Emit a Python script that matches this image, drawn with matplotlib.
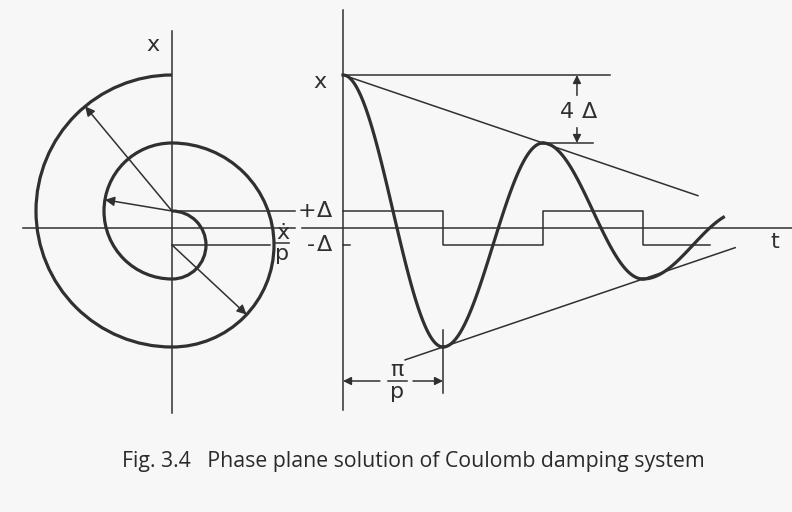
import numpy as np
import matplotlib
matplotlib.use('Agg')
import matplotlib.pyplot as plt
from matplotlib.patches import Arc

# friction displacement and initial amplitude (units of delta)
delta = 1.0
x0 = 9.0
# successive turning points of the motion, each half cycle loses 2*delta
turns = [9.0, -7.0, 5.0, -3.0, 1.0]
# friction level sign for each half cycle
friction_sign = [1, -1, 1, -1]
half_period = np.pi          # pi / p with p = 1
t_end = 11.95                # where the drawn response stops
step_end = 11.53
env_hi_span = [0.0, 11.15]
env_lo_span = [1.95, 12.32]

# radius arrows on the phase plane: (centre level, radius, angle in degrees)
radius_arrows = [(1.0, 8.0, 129.7), (1.0, 4.0, 170.5), (-1.0, 6.0, -43.0)]

ink = '#303030'
thin = 1.1
thick = 2.3
fs = 16

W, H = 792, 512
fig = plt.figure(figsize=(W / 100, H / 100), dpi=100)
fig.patch.set_facecolor('#f7f7f7')

# phase plane: 17 px per delta both ways, origin at (172, 228)
sc = 17.0
phase = fig.add_axes([0, 0, 1, 1])
phase.set_xlim(-172 / sc, (W - 172) / sc)
phase.set_ylim((228 - H) / sc, 228 / sc)

# time response: half period = 100 px, origin at (343, 228)
tsc = 100 / np.pi
resp = fig.add_axes([0, 0, 1, 1])
resp.set_xlim(-343 / tsc, (W - 343) / tsc)
resp.set_ylim((228 - H) / sc, 228 / sc)

for ax in (phase, resp):
    ax.set_axis_off()
    ax.patch.set_alpha(0)


def arrow(ax, tip, tail, size=13):
    ax.annotate('', xy=tip, xytext=tail,
                arrowprops=dict(arrowstyle='-|>', color=ink, lw=thin,
                                mutation_scale=size, shrinkA=0, shrinkB=0))


def fraction(ax, x, y, top, bottom, half_w, gap):
    ax.text(x, y + gap, top, fontsize=fs, color=ink, ha='center', va='center')
    ax.plot([x - half_w, x + half_w], [y, y], color=ink, lw=thin)
    ax.text(x, y - gap, bottom, fontsize=fs, color=ink, ha='center', va='center')


# --- phase plane ---
phase.plot([-8.76, 7.24], [0, 0], color=ink, lw=thin)
phase.plot([0, 0], [-10.9, 11.6], color=ink, lw=thin)
phase.plot([0, 7.24], [delta, delta], color=ink, lw=thin)
phase.plot([0, 5.76], [-delta, -delta], color=ink, lw=thin)

for k, sgn in enumerate(friction_sign):
    c = sgn * delta
    r = abs(turns[k] - c)
    th1, th2 = (90, 270) if sgn > 0 else (-90, 90)
    phase.add_patch(Arc((0, c), 2 * r, 2 * r, theta1=th1, theta2=th2,
                        color=ink, lw=thick))

for c, r, ang in radius_arrows:
    a = np.radians(ang)
    arrow(phase, (r * np.cos(a), c + r * np.sin(a)), (0, c), 14)

phase.text(-1.12, 10.76, 'x', fontsize=fs, color=ink, ha='center', va='center')
phase.text(7.95, delta, '+', fontsize=fs, color=ink, ha='center', va='center')
phase.text(8.95, delta, 'Δ', fontsize=fs, color=ink, ha='center', va='center')
phase.text(8.2, -delta, '-', fontsize=fs, color=ink, ha='center', va='center')
phase.text(8.95, -delta, 'Δ', fontsize=fs, color=ink, ha='center', va='center')
fraction(phase, 6.5, -0.9, 'ẋ', 'p', 0.4, 0.62)

# --- time response ---
resp.plot([-1.29, 14.2], [0, 0], color=ink, lw=thin)
resp.plot([0, 0], [-10.7, 12.8], color=ink, lw=thin)
resp.plot([0, 8.39], [x0, x0], color=ink, lw=thin)
resp.plot([0, 0.22], [-delta, -delta], color=ink, lw=thin)

step_t = [k * half_period for k in range(len(friction_sign))] + [step_end]
step_f = [s * delta for s in friction_sign] + [friction_sign[-1] * delta]
resp.step(step_t, step_f, where='post', color=ink, lw=thin)

for k, sgn in enumerate(friction_sign):
    c = sgn * delta
    t0 = k * half_period
    t1 = min(t0 + half_period, t_end)
    tt = np.linspace(t0, t1, 80)
    resp.plot(tt, c + (turns[k] - c) * np.cos(tt - t0), color=ink, lw=thick)

# decay envelopes: 4 delta lost every full period
rate = 4 * delta / (2 * half_period)
th = np.array(env_hi_span)
resp.plot(th, x0 - rate * th, color=ink, lw=thin)
tl = np.array(env_lo_span)
resp.plot(tl, turns[1] + rate * (tl - half_period), color=ink, lw=thin)

# 4 delta dimension
resp.plot([2 * half_period - 0.1, 7.85], [turns[2], turns[2]], color=ink, lw=thin)
arrow(resp, (7.35, x0), (7.35, 7.8), 12)
arrow(resp, (7.35, turns[2]), (7.35, 5.9), 12)
resp.text(7.05, 6.8, '4', fontsize=fs, color=ink, ha='center', va='center')
resp.text(7.75, 6.8, 'Δ', fontsize=fs, color=ink, ha='center', va='center')

# pi/p dimension
resp.plot([half_period, half_period], [-6.0, -9.7], color=ink, lw=thin)
arrow(resp, (0, -9.0), (1.16, -9.0), 12)
arrow(resp, (half_period, -9.0), (2.2, -9.0), 12)
fraction(resp, 1.70, -9.0, 'π', 'p', 0.3, 0.62)

resp.text(-0.72, 8.6, 'x', fontsize=fs, color=ink, ha='center', va='center')
resp.text(13.57, -0.82, 't', fontsize=fs, color=ink, ha='center', va='center')

fig.text(122 / W, 1 - 467 / H,
         'Fig. 3.4   Phase plane solution of Coulomb damping system',
         fontsize=15.3, family='Open Sans', color='#2a2a2a', ha='left',
         va='baseline')

fig.savefig('out.png', dpi=100, facecolor=fig.get_facecolor())
